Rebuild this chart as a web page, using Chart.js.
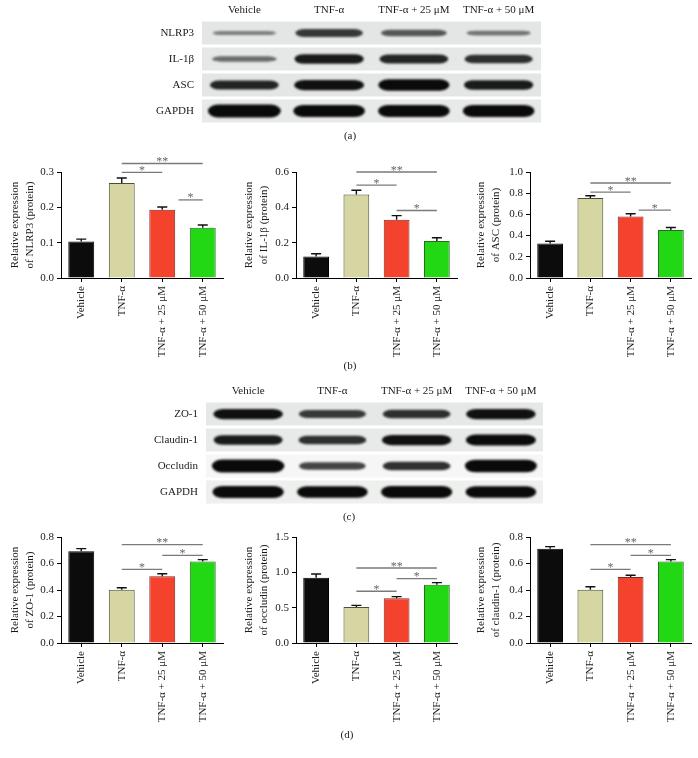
<!DOCTYPE html>
<html>
<head>
<meta charset="utf-8">
<script src="https://cdn.jsdelivr.net/npm/chart.js@4.4.0/dist/chart.umd.min.js"></script>
<style>
  body { margin: 0; background: #fff; }
  #fig { position: relative; width: 698px; height: 758px; overflow: hidden; font-family: "Liberation Serif", serif; }
  canvas { position: absolute; }
  .tag { position: absolute; font-size: 11px; color: #222; width: 40px; margin-left: -20px; text-align: center; }
</style>
</head>
<body>
<div id="fig">
  <canvas id="blotA" width="441" height="124" style="left:100px;top:0px"></canvas>
  <canvas id="cNlrp3" width="230" height="225" style="left:0px;top:140px"></canvas>
  <canvas id="cIl1b" width="230" height="225" style="left:234px;top:140px"></canvas>
  <canvas id="cAsc" width="232" height="225" style="left:466px;top:140px"></canvas>
  <canvas id="blotC" width="439" height="124" style="left:104px;top:381px"></canvas>
  <canvas id="cZo1" width="230" height="210" style="left:0px;top:520px"></canvas>
  <canvas id="cOccl" width="230" height="210" style="left:234px;top:520px"></canvas>
  <canvas id="cCldn" width="232" height="210" style="left:466px;top:520px"></canvas>
  <div class="tag" style="left:350px;top:129px">(a)</div>
  <div class="tag" style="left:350px;top:359px">(b)</div>
  <div class="tag" style="left:349px;top:510px">(c)</div>
  <div class="tag" style="left:347px;top:728px">(d)</div>
</div>
<script>
// groups / lanes
const groups = ["Vehicle", "TNF-α", "TNF-α + 25 μM", "TNF-α + 50 μM"];

// western blots: band strength per row, per lane (0..1)
const rowsA = ["NLRP3", "IL-1β", "ASC", "GAPDH"];
const bandsA = [
  [0.2, 0.55, 0.4, 0.25],
  [0.3, 0.7, 0.65, 0.6],
  [0.65, 0.75, 0.85, 0.7],
  [1.0, 0.9, 0.9, 0.9]
];
const rowsC = ["ZO-1", "Claudin-1", "Occludin", "GAPDH"];
const bandsC = [
  [0.75, 0.55, 0.6, 0.75],
  [0.7, 0.6, 0.75, 0.8],
  [1.0, 0.5, 0.6, 0.95],
  [0.9, 0.85, 0.9, 0.85]
];

// (b) relative protein expression, mean and SEM
const nlrp3 = [0.103, 0.269, 0.193, 0.142];
const nlrp3Sem = [0.007, 0.014, 0.008, 0.008];
const il1b = [0.122, 0.473, 0.330, 0.209];
const il1bSem = [0.015, 0.024, 0.023, 0.019];
const asc = [0.325, 0.754, 0.580, 0.454];
const ascSem = [0.022, 0.022, 0.026, 0.022];

// (d)
const zo1 = [0.692, 0.402, 0.503, 0.616];
const zo1Sem = [0.020, 0.015, 0.020, 0.013];
const occludin = [0.925, 0.509, 0.632, 0.825];
const occludinSem = [0.051, 0.024, 0.024, 0.029];
const claudin1 = [0.712, 0.402, 0.498, 0.616];
const claudin1Sem = [0.015, 0.023, 0.013, 0.013];

// significance brackets: [from group, to group, stars, height in y units]
const nlrp3Sig = [[1, 3, "**", 0.324], [1, 2, "*", 0.299], [2.4, 3, "*", 0.221]];
const il1bSig = [[1, 3, "**", 0.600], [1, 2, "*", 0.526], [2, 3, "*", 0.382]];
const ascSig = [[1, 3, "**", 0.896], [1, 2, "*", 0.811], [2.2, 3, "*", 0.640]];
const zo1Sig = [[1, 3, "**", 0.743], [2, 3, "*", 0.662], [1, 2, "*", 0.556]];
const occludinSig = [[1, 3, "**", 1.061], [2, 3, "*", 0.911], [1, 2, "*", 0.732]];
const claudin1Sig = [[1, 3, "**", 0.743], [2, 3, "*", 0.662], [1, 2, "*", 0.556]];

const fills = ["#0c0c0c", "#d5d6a1", "#f4422d", "#22d814"];
const edges = ["#000000", "#4d4d38", "#7e2a1e", "#2a6a22"];
const serif = "'Liberation Serif', 'Times New Roman', serif";
const ink = "#1a1a1a";

// draws the strips and bands of a blot
const blotBands = {
  id: "blotBands",
  beforeDatasetsDraw(chart, args, opts) {
    const ctx = chart.ctx, xs = chart.scales.x, ys = chart.scales.y, area = chart.chartArea;
    const laneW = xs.getPixelForValue(1) - xs.getPixelForValue(0);
    const rowH = ys.getPixelForValue(1) - ys.getPixelForValue(0);
    ctx.save();
    opts.bands.forEach((row, r) => {
      const cy = ys.getPixelForValue(r);
      ctx.fillStyle = opts.shades[r];
      ctx.fillRect(area.left, cy - rowH / 2 + 1.5, area.right - area.left, rowH - 3);
      row.forEach((v, l) => {
        const cx = xs.getPixelForValue(l);
        const w = laneW * (0.72 + 0.14 * v);
        const h = 2 + 11 * v;
        const x0 = cx - w / 2, x1 = cx + w / 2, rx = w * 0.14;
        ctx.filter = "blur(1.1px)";
        ctx.fillStyle = "rgba(10,10,10," + Math.min(1, 0.3 + 0.9 * v) + ")";
        ctx.beginPath();
        ctx.ellipse(x0 + rx, cy, rx, h / 2, 0, Math.PI / 2, Math.PI * 1.5);
        ctx.lineTo(x1 - rx, cy - h / 2);
        ctx.ellipse(x1 - rx, cy, rx, h / 2, 0, -Math.PI / 2, Math.PI / 2);
        ctx.closePath();
        ctx.fill();
        ctx.filter = "none";
      });
    });
    ctx.restore();
  }
};

function blot(id, rows, bands, shades, yw) {
  new Chart(document.getElementById(id), {
    type: "bar",
    data: { labels: groups, datasets: [] },
    options: {
      responsive: false,
      animation: false,
      layout: { padding: 0 },
      plugins: {
        legend: { display: false },
        tooltip: { enabled: false },
        blotBands: { bands: bands, shades: shades }
      },
      scales: {
        x: {
          position: "top", offset: true,
          grid: { display: false, drawTicks: false }, border: { display: false },
          ticks: { color: ink, font: { family: serif, size: 11 }, padding: 3, maxRotation: 0 },
          afterFit: s => { s.height = 20; }
        },
        y: {
          type: "category", labels: rows, offset: true,
          grid: { display: false, drawTicks: false }, border: { display: false },
          ticks: { color: ink, font: { family: serif, size: 11 }, padding: 8 },
          afterFit: s => { s.width = yw; s.paddingTop = 0; s.paddingBottom = 0; }
        }
      }
    },
    plugins: [blotBands]
  });
}

// error bars (upper only) and significance brackets
const extras = {
  id: "extras",
  afterDatasetsDraw(chart, args, opts) {
    const ctx = chart.ctx, xs = chart.scales.x, ys = chart.scales.y;
    const meta = chart.getDatasetMeta(0);
    const vals = chart.data.datasets[0].data;
    ctx.save();
    ctx.strokeStyle = "#111";
    ctx.lineWidth = 1.4;
    opts.sem.forEach((s, i) => {
      const bx = meta.data[i].x;
      const y0 = ys.getPixelForValue(vals[i]);
      const y1 = ys.getPixelForValue(vals[i] + s);
      ctx.beginPath();
      ctx.moveTo(bx, y0); ctx.lineTo(bx, y1);
      ctx.moveTo(bx - 5, y1); ctx.lineTo(bx + 5, y1);
      ctx.stroke();
    });
    ctx.strokeStyle = "#7a7a7a";
    ctx.fillStyle = "#666";
    ctx.lineWidth = 1.3;
    ctx.font = "12px " + serif;
    ctx.textAlign = "center";
    ctx.textBaseline = "alphabetic";
    opts.sig.forEach(([a, b, star, h]) => {
      const x1 = xs.getPixelForValue(a), x2 = xs.getPixelForValue(b);
      const y = ys.getPixelForValue(h);
      ctx.beginPath();
      ctx.moveTo(x1, y); ctx.lineTo(x2, y);
      ctx.stroke();
      ctx.fillText(star, (x1 + x2) / 2, y + 1.5);
    });
    ctx.restore();
  }
};

function bars(id, name, values, sem, sig, max, step, yw, padTop, xh) {
  new Chart(document.getElementById(id), {
    type: "bar",
    data: {
      labels: groups,
      datasets: [{
        data: values, backgroundColor: fills, borderColor: edges, borderWidth: 1,
        barPercentage: 0.64, categoryPercentage: 1
      }]
    },
    options: {
      responsive: false,
      animation: false,
      layout: { padding: { top: padTop, right: 7, left: 0, bottom: 0 } },
      plugins: {
        legend: { display: false },
        tooltip: { enabled: false },
        extras: { sem: sem, sig: sig }
      },
      scales: {
        x: {
          grid: { drawOnChartArea: false, offset: false, tickLength: 4, color: "#000" },
          border: { color: "#000", width: 1 },
          ticks: { color: ink, font: { family: serif, size: 11 }, padding: 4, minRotation: 90, maxRotation: 90, autoSkip: false },
          afterFit: s => { s.height = xh; }
        },
        y: {
          min: 0, max: max,
          grid: { drawOnChartArea: false, tickLength: 4, color: "#000" },
          border: { color: "#000", width: 1 },
          ticks: { color: ink, font: { family: serif, size: 11 }, padding: 3, stepSize: step, callback: v => v.toFixed(1) },
          title: {
            display: true, text: ["Relative expression", name], color: ink,
            font: { family: serif, size: 11, lineHeight: 1.35 }, padding: { top: 8, bottom: 0 }
          },
          afterFit: s => { s.width = yw; }
        }
      }
    },
    plugins: [extras]
  });
}

blot("blotA", rowsA, bandsA, ["#e4e6e6", "#e6e8e8", "#e4e6e6", "#e8eaea"], 102);
blot("blotC", rowsC, bandsC, ["#e6e8e8", "#e8eaea", "#f6f6f6", "#eef0ee"], 102);

bars("cNlrp3", "of NLRP3 (protein)", nlrp3, nlrp3Sem, nlrp3Sig, 0.3, 0.1, 61, 32, 87);
bars("cIl1b", "of IL-1β (protein)", il1b, il1bSem, il1bSig, 0.6, 0.2, 62, 32, 87);
bars("cAsc", "of ASC (protein)", asc, ascSem, ascSig, 1.0, 0.2, 64, 32, 87);

bars("cZo1", "of ZO-1 (protein)", zo1, zo1Sem, zo1Sig, 0.8, 0.2, 61, 17, 87);
bars("cOccl", "of occludin (protein)", occludin, occludinSem, occludinSig, 1.5, 0.5, 62, 17, 87);
bars("cCldn", "of claudin-1 (protein)", claudin1, claudin1Sem, claudin1Sig, 0.8, 0.2, 64, 17, 87);
</script>
</body>
</html>
